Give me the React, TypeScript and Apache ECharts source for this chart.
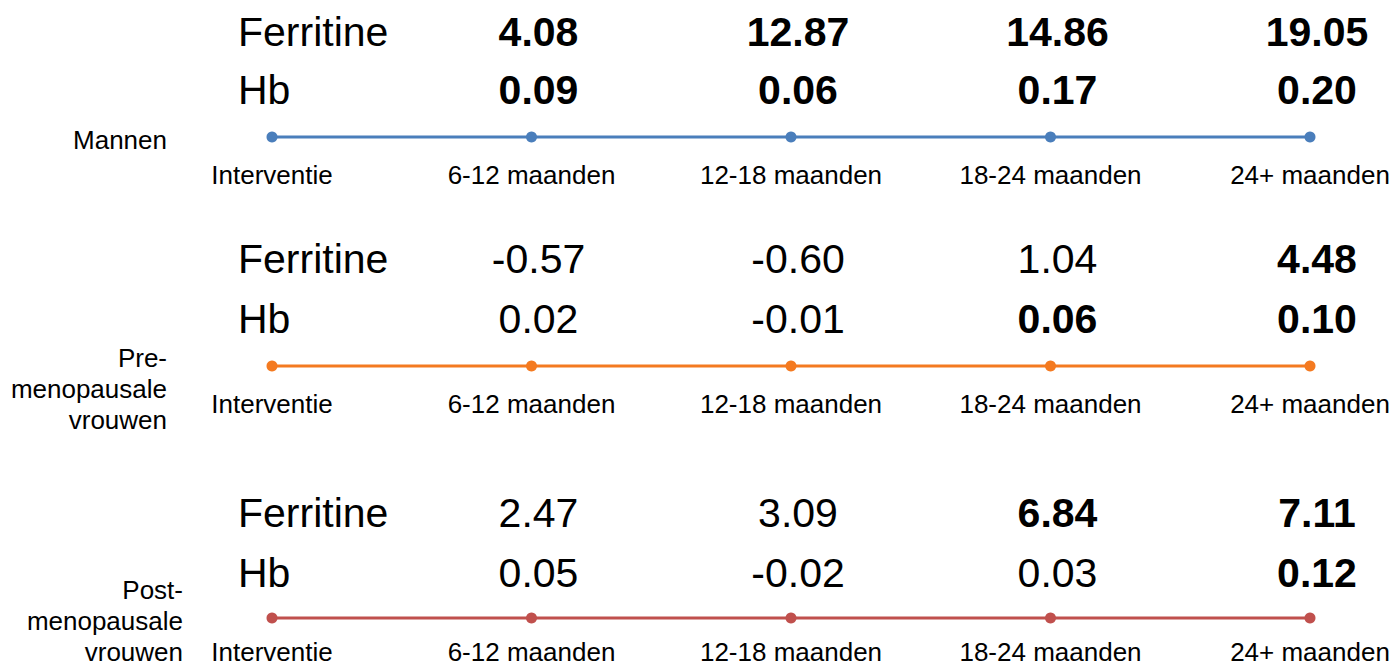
import React, { useEffect, useRef } from "react";
import * as echarts from "echarts";

const timepoints = ["Interventie", "6-12 maanden", "12-18 maanden", "18-24 maanden", "24+ maanden"];
const groups = ["Mannen", "Pre-\nmenopausale\nvrouwen", "Post-\nmenopausale\nvrouwen"];
const rowNames = ["Ferritine", "Hb"];

// values for 6-12, 12-18, 18-24, 24+ months
const ferritineMannen = [4.08, 12.87, 14.86, 19.05];
const hbMannen = [0.09, 0.06, 0.17, 0.2];
const ferritinePre = [-0.57, -0.6, 1.04, 4.48];
const hbPre = [0.02, -0.01, 0.06, 0.1];
const ferritinePost = [2.47, 3.09, 6.84, 7.11];
const hbPost = [0.05, -0.02, 0.03, 0.12];

// bold = significant
const ferritineMannenBold = [true, true, true, true];
const hbMannenBold = [true, true, true, true];
const ferritinePreBold = [false, false, false, true];
const hbPreBold = [false, false, true, true];
const ferritinePostBold = [false, false, true, true];
const hbPostBold = [false, false, false, true];

const colors = ["#4a7ebb", "#f47a20", "#c0504d"];
const FONT = "'Liberation Sans', Arial, Helvetica, sans-serif";

export default function App() {
  const ref = useRef<HTMLDivElement>(null);
  useEffect(() => {
    if (!ref.current) return;
    const chart = echarts.init(ref.current, null, { renderer: "svg" });

    const lineY = [137, 366, 618];
    const labelDistance = [13, 12, 10];
    const rowLineHeight = [58, 60, 60];
    const axisLabelMargin = [24, 24, 20];
    const groupLabelRight = [167, 167, 183];
    const groupLabelY = [140, 389, 621];
    const sets = [
      { f: ferritineMannen, h: hbMannen, fb: ferritineMannenBold, hb: hbMannenBold },
      { f: ferritinePre, h: hbPre, fb: ferritinePreBold, hb: hbPreBold },
      { f: ferritinePost, h: hbPost, fb: ferritinePostBold, hb: hbPostBold },
    ];

    const fmt = (v: number, b: boolean) => `{${b ? "b" : "n"}|${v.toFixed(2)}}`;

    const grids: any[] = [];
    const xAxes: any[] = [];
    const yAxes: any[] = [];
    const series: any[] = [];

    sets.forEach((s, g) => {
      grids.push({ left: 272, right: 85, top: lineY[g] - 1, height: 2 });
      xAxes.push({
        type: "category",
        gridIndex: g,
        data: timepoints,
        boundaryGap: false,
        axisLine: { show: false },
        axisTick: { show: false },
        splitLine: { show: false },
        axisLabel: {
          margin: axisLabelMargin[g],
          fontSize: 26,
          color: "#000",
          fontFamily: FONT,
          interval: 0,
        },
      });
      yAxes.push({ type: "value", gridIndex: g, min: -1, max: 1, show: false });

      const lh = rowLineHeight[g];
      const rich = {
        b: { fontSize: 41, fontWeight: "bold", lineHeight: lh, color: "#000", fontFamily: FONT },
        n: { fontSize: 41, fontWeight: "normal", lineHeight: lh, color: "#000", fontFamily: FONT },
      };

      const data = timepoints.map((t, i) => {
        if (i === 0) {
          return {
            value: 0,
            label: {
              formatter: rowNames.map((r) => `{n|${r}}`).join("\n"),
              align: "left",
              offset: [-34, 0],
            },
          };
        }
        return {
          value: 0,
          label: {
            formatter: fmt(s.f[i - 1], s.fb[i - 1]) + "\n" + fmt(s.h[i - 1], s.hb[i - 1]),
            offset: [7, 0],
          },
        };
      });

      series.push({
        type: "line",
        xAxisIndex: g,
        yAxisIndex: g,
        data,
        symbol: "circle",
        symbolSize: 11,
        lineStyle: { color: colors[g], width: 3 },
        itemStyle: { color: colors[g] },
        label: {
          show: true,
          position: "top",
          distance: labelDistance[g],
          rich,
          fontFamily: FONT,
        },
        silent: true,
      });
    });

    const graphics = groups.map((name, g) => ({
      type: "text",
      right: 1395 - groupLabelRight[g],
      top: groupLabelY[g] - (name.split("\n").length * 31) / 2,
      style: {
        text: name,
        font: `26px ${FONT}`,
        fill: "#000",
        textAlign: "right",
        lineHeight: 31,
      },
    }));

    chart.setOption({
      animation: false,
      backgroundColor: "#fff",
      grid: grids,
      xAxis: xAxes,
      yAxis: yAxes,
      series,
      graphic: graphics,
    });
    return () => chart.dispose();
  }, []);
  return (
    <div
      ref={ref}
      style={{ position: "fixed", left: 0, top: 0, width: 1395, height: 669, background: "#fff" }}
    />
  );
}
